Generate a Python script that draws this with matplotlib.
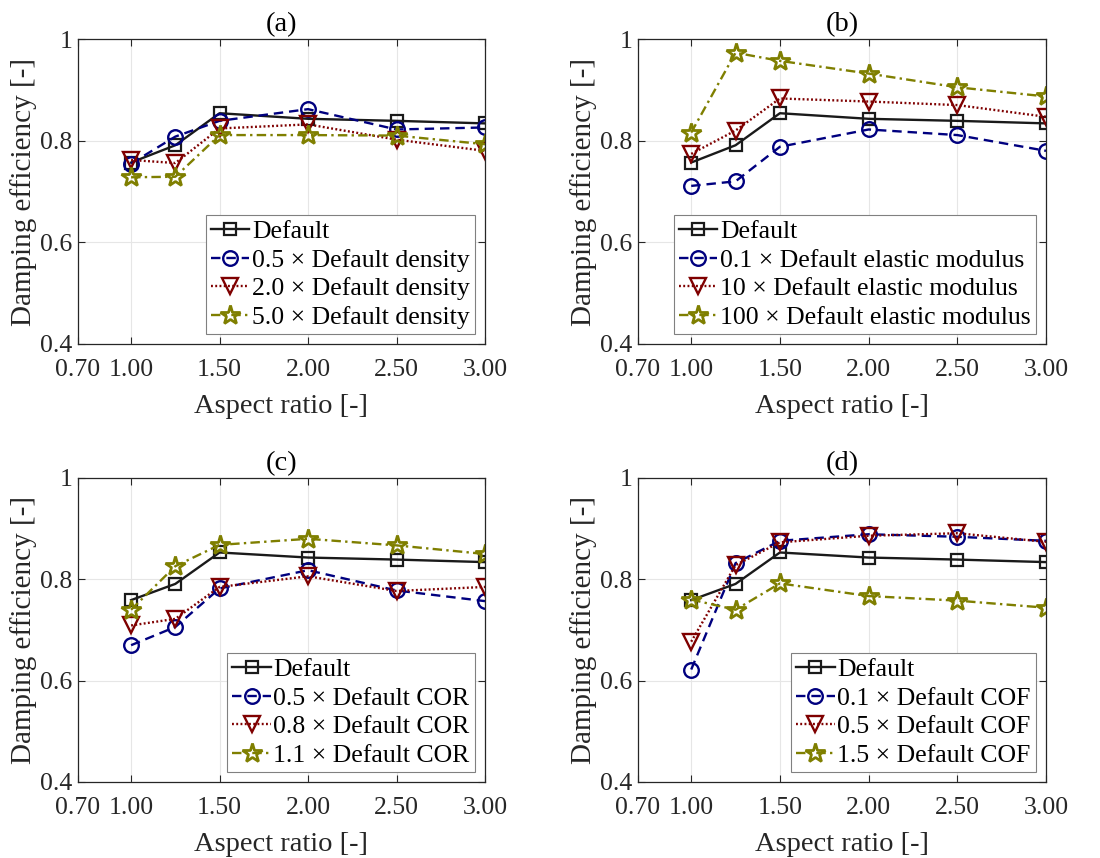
import numpy as np
import matplotlib
matplotlib.use("Agg")
import matplotlib.pyplot as plt

plt.rcParams['font.family'] = ['Liberation Serif', 'DejaVu Serif']

# aspect ratio values
aspect = [1.0, 1.25, 1.5, 2.0, 2.5, 3.0]
xticks = [0.7, 1.0, 1.5, 2.0, 2.5, 3.0]
xticklabels = ['0.70', '1.00', '1.50', '2.00', '2.50', '3.00']
yticks = [0.4, 0.6, 0.8, 1.0]
yticklabels = ['0.4', '0.6', '0.8', '1']

titles = ['(a)', '(b)', '(c)', '(d)']

default_ab = [0.757, 0.791, 0.854, 0.843, 0.839, 0.834]
default_cd = [0.759, 0.791, 0.853, 0.843, 0.839, 0.834]

# (a) density
dens_05 = [0.755, 0.808, 0.839, 0.862, 0.822, 0.826]
dens_20 = [0.762, 0.756, 0.824, 0.832, 0.802, 0.780]
dens_50 = [0.728, 0.729, 0.811, 0.811, 0.810, 0.793]
labels_a = ['Default', '0.5 × Default density', '2.0 × Default density',
            '5.0 × Default density']

# (b) elastic modulus
mod_01 = [0.711, 0.720, 0.788, 0.822, 0.811, 0.780]
mod_10 = [0.774, 0.820, 0.883, 0.877, 0.870, 0.847]
mod_100 = [0.816, 0.973, 0.957, 0.932, 0.905, 0.887]
labels_b = ['Default', '0.1 × Default elastic modulus', '10 × Default elastic modulus',
            '100 × Default elastic modulus']

# (c) COR
cor_05 = [0.670, 0.706, 0.782, 0.818, 0.778, 0.757]
cor_08 = [0.709, 0.722, 0.785, 0.806, 0.777, 0.785]
cor_11 = [0.740, 0.826, 0.868, 0.880, 0.867, 0.850]
labels_c = ['Default', '0.5 × Default COR', '0.8 × Default COR', '1.1 × Default COR']

# (d) COF
cof_01 = [0.622, 0.832, 0.876, 0.889, 0.884, 0.876]
cof_05 = [0.677, 0.828, 0.873, 0.886, 0.891, 0.874]
cof_15 = [0.760, 0.740, 0.792, 0.767, 0.758, 0.744]
labels_d = ['Default', '0.1 × Default COF', '0.5 × Default COF', '1.5 × Default COF']

series = [
    [default_ab, dens_05, dens_20, dens_50],
    [default_ab, mod_01, mod_10, mod_100],
    [default_cd, cor_05, cor_08, cor_11],
    [default_cd, cof_01, cof_05, cof_15],
]
labels = [labels_a, labels_b, labels_c, labels_d]

colors = ['#1a1a1a', '#00007f', '#7f0000', '#7f7f00']
styles = ['-', (0, (4, 2.5)), (0, (0.8, 1.0)), (0, (4, 1.8, 1, 1.8))]
markers = ['s', 'o', 'v', '*']
msizes = [8.5, 10.5, 11, 15]
mews = [1.6, 1.7, 1.7, 2.0]

txt = '#262626'

fig = plt.figure(figsize=(11, 8.58), dpi=100)
boxes = [
    [78 / 1100, 1 - 344 / 858, 407 / 1100, 305 / 858],
    [638 / 1100, 1 - 344 / 858, 408 / 1100, 305 / 858],
    [78 / 1100, 1 - 782 / 858, 407 / 1100, 304 / 858],
    [638 / 1100, 1 - 782 / 858, 408 / 1100, 304 / 858],
]

for k in range(4):
    ax = fig.add_axes(boxes[k])
    for i in range(4):
        ax.plot(aspect, series[k][i], linestyle=styles[i], color=colors[i],
                marker=markers[i], markersize=msizes[i], markerfacecolor='none',
                markeredgecolor=colors[i], markeredgewidth=mews[i], linewidth=1.7,
                label=labels[k][i])
    ax.set_xlim(0.7, 3.0)
    ax.set_ylim(0.4, 1.0)
    ax.set_xticks(xticks)
    ax.set_xticklabels(xticklabels)
    ax.set_yticks(yticks)
    ax.set_yticklabels(yticklabels)
    ax.grid(True, color='#e6e6e6', linewidth=0.8)
    ax.set_axisbelow(True)
    ax.tick_params(direction='in', top=True, right=True, length=5, width=0.8,
                   labelsize=18.5, colors=txt, pad=4)
    ax.tick_params(axis='x', pad=11)
    for sp in ax.spines.values():
        sp.set_color(txt)
        sp.set_linewidth(0.9)
    ax.set_xlabel('Aspect ratio [-]', fontsize=20.5, color=txt, labelpad=9)
    ax.set_ylabel('Damping efficiency [-]', fontsize=21, color=txt, labelpad=2)
    ax.set_title(titles[k], fontsize=20.5, color='black', pad=6)
    leg = ax.legend(loc='lower right', bbox_to_anchor=(0.975, 0.033), fontsize=18.5,
                    handlelength=1.5, handletextpad=0.1, labelspacing=0.22,
                    borderpad=0.2, borderaxespad=0.0, fancybox=False, framealpha=1,
                    edgecolor='#808080')
    leg.get_frame().set_linewidth(0.8)

fig.savefig('out.png', dpi=100)
